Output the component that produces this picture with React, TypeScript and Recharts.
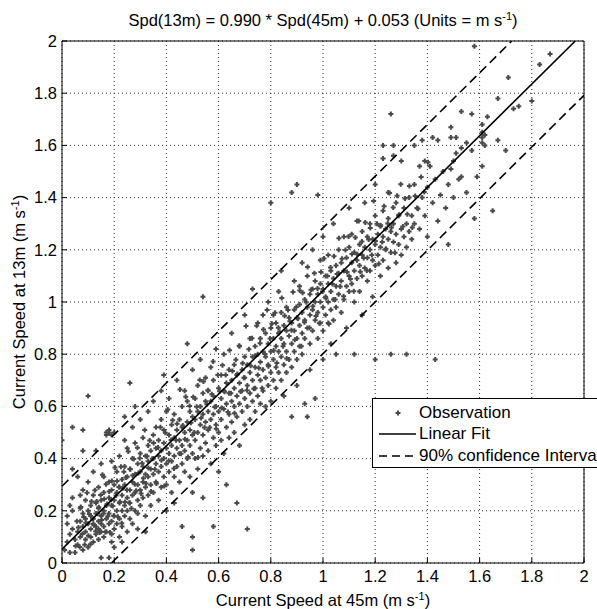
import React from 'react';
import { ScatterChart, Scatter, XAxis, YAxis, CartesianGrid } from 'recharts';

const xTicks = [0, 0.2, 0.4, 0.6, 0.8, 1, 1.2, 1.4, 1.6, 1.8, 2];
const yTicks = [0, 0.2, 0.4, 0.6, 0.8, 1, 1.2, 1.4, 1.6, 1.8, 2];
const xTickLabels = ['0', '0.2', '0.4', '0.6', '0.8', '1', '1.2', '1.4', '1.6', '1.8', '2'];
const yTickLabels = ['0', '0.2', '0.4', '0.6', '0.8', '1', '1.2', '1.4', '1.6', '1.8', '2'];

const fitSlope = 0.99;
const fitIntercept = 0.053;
const ciHalfWidth = 0.241;

const titleText = 'Spd(13m) = 0.990 * Spd(45m) + 0.053  (Units = m s';
const xTitle = 'Current Speed at 45m (m s';
const yTitle = 'Current Speed at 13m (m s';
const legendLabels = ['Observation', 'Linear Fit', '90% confidence Interval'];

const observations: [number, number][] = [
  [0.01,0.05],[0.02,0.08],[0.02,0.15],[0.03,0.04],[0.03,0.11],[0.04,0.13],[0.04,0.2],[0.05,0.04],[0.05,0.09],[0.0,0.47],[0.04,0.25],[0.04,0.36],[0.04,0.52],[0.02,0.18],[0.03,0.22],
  [0.06,0.07],[0.06,0.12],[0.07,0.1],[0.07,0.16],[0.07,0.21],[0.08,0.05],[0.08,0.14],[0.08,0.19],[0.08,0.28],[0.09,0.09],[0.09,0.12],[0.09,0.17],[0.09,0.24],[0.1,0.06],[0.1,0.15],[0.1,0.2],[0.1,0.31],[0.08,0.43],[0.08,0.51],[0.1,0.64],[0.06,0.33],[0.07,0.26],
  [0.11,0.1],[0.11,0.13],[0.11,0.18],[0.11,0.22],[0.12,0.08],[0.12,0.15],[0.12,0.17],[0.12,0.26],[0.12,0.35],[0.13,0.11],[0.13,0.14],[0.13,0.19],[0.13,0.23],[0.13,0.43],[0.14,0.09],[0.14,0.16],[0.14,0.21],[0.14,0.29],[0.14,0.13],[0.15,0.02],[0.15,0.12],[0.15,0.18],[0.15,0.24],[0.15,0.38],[0.15,0.15],
  [0.16,0.1],[0.16,0.14],[0.16,0.2],[0.16,0.27],[0.16,0.33],[0.17,0.12],[0.17,0.17],[0.17,0.22],[0.17,0.49],[0.17,0.5],[0.18,0.02],[0.18,0.15],[0.18,0.19],[0.18,0.25],[0.18,0.31],[0.18,0.5],[0.18,0.51],[0.19,0.11],[0.19,0.16],[0.19,0.22],[0.19,0.28],[0.19,0.39],[0.19,0.49],[0.2,0.13],[0.2,0.18],[0.2,0.24],[0.2,0.3],[0.2,0.5],[0.2,0.06],[0.19,0.08],
  [0.21,0.15],[0.21,0.2],[0.21,0.27],[0.21,0.35],[0.22,0.1],[0.22,0.17],[0.22,0.23],[0.22,0.29],[0.22,0.41],[0.23,0.14],[0.23,0.2],[0.23,0.26],[0.23,0.32],[0.24,0.18],[0.24,0.22],[0.24,0.3],[0.24,0.37],[0.24,0.47],[0.25,0.12],[0.25,0.2],[0.25,0.25],[0.25,0.33],[0.25,0.44],[0.23,0.08],[0.24,0.56],
  [0.26,0.17],[0.26,0.23],[0.26,0.28],[0.26,0.36],[0.26,0.69],[0.27,0.15],[0.27,0.26],[0.27,0.31],[0.27,0.4],[0.27,0.52],[0.28,0.2],[0.28,0.27],[0.28,0.34],[0.28,0.46],[0.29,0.13],[0.29,0.24],[0.29,0.3],[0.29,0.38],[0.3,0.22],[0.3,0.28],[0.3,0.35],[0.3,0.42],[0.3,0.55],[0.28,0.6],[0.29,0.19],
  [0.31,0.25],[0.31,0.31],[0.31,0.37],[0.31,0.48],[0.32,0.18],[0.32,0.29],[0.32,0.34],[0.32,0.41],[0.33,0.26],[0.33,0.33],[0.33,0.39],[0.33,0.45],[0.33,0.58],[0.34,0.22],[0.34,0.3],[0.34,0.36],[0.34,0.43],[0.35,0.27],[0.35,0.34],[0.35,0.4],[0.35,0.49],[0.35,0.62],[0.32,0.12],
  [0.36,0.31],[0.36,0.38],[0.36,0.44],[0.36,0.52],[0.37,0.24],[0.37,0.35],[0.37,0.41],[0.37,0.47],[0.38,0.29],[0.38,0.37],[0.38,0.43],[0.38,0.55],[0.38,0.66],[0.39,0.33],[0.39,0.4],[0.39,0.46],[0.39,0.51],[0.4,0.3],[0.4,0.38],[0.4,0.44],[0.4,0.58],[0.4,0.2],[0.39,0.72],
  [0.41,0.35],[0.41,0.42],[0.41,0.49],[0.41,0.63],[0.42,0.27],[0.42,0.39],[0.42,0.45],[0.42,0.53],[0.43,0.33],[0.43,0.41],[0.43,0.48],[0.43,0.57],[0.44,0.37],[0.44,0.44],[0.44,0.51],[0.44,0.7],[0.45,0.31],[0.45,0.42],[0.45,0.47],[0.45,0.55],[0.46,0.14],[0.43,0.23],
  [0.46,0.38],[0.46,0.45],[0.46,0.52],[0.46,0.6],[0.47,0.35],[0.47,0.43],[0.47,0.5],[0.47,0.66],[0.48,0.4],[0.48,0.47],[0.48,0.54],[0.48,0.62],[0.49,0.33],[0.49,0.45],[0.49,0.51],[0.49,0.58],[0.5,0.05],[0.5,0.1],[0.5,0.27],[0.5,0.42],[0.5,0.49],[0.5,0.56],[0.5,0.74],[0.48,0.84],
  [0.51,0.4],[0.51,0.47],[0.51,0.55],[0.51,0.63],[0.52,0.36],[0.52,0.5],[0.52,0.58],[0.52,0.68],[0.53,0.44],[0.53,0.53],[0.53,0.6],[0.53,0.78],[0.54,0.25],[0.54,0.41],[0.54,0.49],[0.54,0.57],[0.54,0.65],[0.55,0.46],[0.55,0.54],[0.55,0.62],[0.55,0.71],[0.54,1.02],
  [0.56,0.43],[0.56,0.51],[0.56,0.58],[0.56,0.66],[0.57,0.38],[0.57,0.55],[0.57,0.62],[0.57,0.75],[0.58,0.14],[0.58,0.48],[0.58,0.57],[0.58,0.64],[0.58,0.7],[0.59,0.45],[0.59,0.53],[0.59,0.6],[0.59,0.82],[0.6,0.5],[0.6,0.58],[0.6,0.67],[0.6,0.35],
  [0.61,0.47],[0.61,0.55],[0.61,0.63],[0.61,0.72],[0.62,0.42],[0.62,0.59],[0.62,0.66],[0.62,0.8],[0.63,0.52],[0.63,0.61],[0.63,0.69],[0.64,0.48],[0.64,0.57],[0.64,0.65],[0.64,0.74],[0.65,0.54],[0.65,0.62],[0.65,0.7],[0.65,0.88],[0.63,0.3],
  [0.66,0.5],[0.66,0.6],[0.66,0.67],[0.66,0.76],[0.67,0.23],[0.67,0.56],[0.67,0.64],[0.67,0.72],[0.68,0.45],[0.68,0.61],[0.68,0.69],[0.68,0.83],[0.69,0.58],[0.69,0.66],[0.69,0.74],[0.7,0.53],[0.7,0.63],[0.7,0.71],[0.7,0.79],[0.7,0.95],
  [0.71,0.13],[0.71,0.6],[0.71,0.68],[0.71,0.76],[0.72,0.55],[0.72,0.65],[0.72,0.73],[0.72,0.86],[0.73,0.62],[0.73,0.7],[0.73,0.79],[0.74,0.58],[0.74,0.67],[0.74,0.75],[0.74,0.83],[0.75,0.64],[0.75,0.72],[0.75,0.8],[0.75,0.92],[0.73,1.05],
  [0.76,0.61],[0.76,0.7],[0.76,0.77],[0.76,0.86],[0.77,0.66],[0.77,0.74],[0.77,0.81],[0.77,0.95],[0.78,0.6],[0.78,0.71],[0.78,0.79],[0.78,0.88],[0.79,0.68],[0.79,0.76],[0.79,0.84],[0.8,0.73],[0.8,0.81],[0.8,0.9],[0.8,1.38],[0.8,0.62],[0.79,1.0],
  [0.81,0.7],[0.81,0.78],[0.81,0.86],[0.81,0.95],[0.82,0.67],[0.82,0.75],[0.82,0.83],[0.82,0.92],[0.83,0.73],[0.83,0.81],[0.83,0.88],[0.83,1.04],[0.84,0.7],[0.84,0.79],[0.84,0.86],[0.84,0.96],[0.85,0.76],[0.85,0.84],[0.85,0.91],[0.85,0.64],[0.84,1.12],
  [0.86,0.73],[0.86,0.81],[0.86,0.89],[0.86,0.98],[0.87,0.78],[0.87,0.87],[0.87,0.94],[0.88,0.56],[0.88,0.75],[0.88,0.84],[0.88,0.92],[0.88,1.42],[0.89,0.81],[0.89,0.89],[0.89,0.97],[0.89,1.08],[0.9,0.78],[0.9,0.86],[0.9,0.94],[0.9,1.45],[0.9,0.68],
  [0.91,0.83],[0.91,0.91],[0.91,0.99],[0.91,1.06],[0.92,0.8],[0.92,0.88],[0.92,0.96],[0.92,1.15],[0.93,0.61],[0.93,0.86],[0.93,0.93],[0.93,1.01],[0.94,0.56],[0.94,0.9],[0.94,0.98],[0.94,1.1],[0.95,0.84],[0.95,0.95],[0.95,1.03],[0.95,0.74],
  [0.96,0.89],[0.96,0.97],[0.96,1.05],[0.96,1.2],[0.97,0.63],[0.97,0.93],[0.97,1.0],[0.97,1.08],[0.98,0.86],[0.98,0.96],[0.98,1.03],[0.98,1.41],[0.99,0.92],[0.99,1.0],[0.99,1.07],[0.99,1.16],[1.0,0.89],[1.0,0.98],[1.0,1.05],[1.0,1.25],[1.0,0.78],
  [1.01,0.95],[1.01,1.02],[1.01,1.1],[1.02,0.92],[1.02,1.0],[1.02,1.07],[1.02,1.18],[1.03,0.97],[1.03,1.04],[1.03,1.12],[1.03,0.84],[1.04,1.01],[1.04,1.09],[1.04,1.3],[1.05,0.8],[1.05,0.98],[1.05,1.06],[1.05,1.14],[1.04,0.93],
  [1.06,1.03],[1.06,1.11],[1.06,1.2],[1.07,0.96],[1.07,1.08],[1.07,1.15],[1.08,1.01],[1.08,1.12],[1.08,1.25],[1.09,1.06],[1.09,1.17],[1.09,0.9],[1.1,1.04],[1.1,1.1],[1.1,1.21],[1.1,1.36],
  [1.11,1.07],[1.11,1.15],[1.11,1.26],[1.12,0.8],[1.12,1.0],[1.12,1.12],[1.12,1.19],[1.13,1.09],[1.13,1.16],[1.13,1.31],[1.14,1.04],[1.14,1.14],[1.14,1.22],[1.15,1.1],[1.15,1.18],[1.15,1.27],[1.15,0.95],
  [1.16,1.13],[1.16,1.21],[1.16,1.38],[1.17,1.08],[1.17,1.17],[1.17,1.25],[1.18,1.12],[1.18,1.2],[1.18,1.3],[1.19,1.16],[1.19,1.24],[1.19,1.02],[1.2,0.78],[1.2,1.14],[1.2,1.22],[1.2,1.33],[1.2,1.45],
  [1.21,1.18],[1.21,1.26],[1.22,1.1],[1.22,1.21],[1.22,1.29],[1.23,1.55],[1.23,1.6],[1.23,1.16],[1.23,1.25],[1.23,1.35],[1.24,1.2],[1.24,1.28],[1.25,1.13],[1.25,1.24],[1.25,1.32],[1.25,1.42],
  [1.26,0.8],[1.26,1.72],[1.26,1.19],[1.26,1.27],[1.27,1.56],[1.27,1.6],[1.27,1.23],[1.27,1.3],[1.28,1.15],[1.28,1.26],[1.28,1.38],[1.29,1.22],[1.29,1.33],[1.3,1.54],[1.3,1.18],[1.3,1.28],[1.32,0.8],
  [1.31,1.25],[1.31,1.36],[1.32,1.3],[1.32,1.21],[1.33,1.27],[1.33,1.4],[1.34,1.33],[1.34,1.24],[1.35,1.6],[1.35,1.3],[1.35,1.45],[1.36,1.36],[1.37,1.52],[1.37,1.28],[1.38,1.62],[1.38,1.4],[1.39,1.54],[1.39,1.33],[1.4,1.44],[1.4,1.25],
  [1.41,1.52],[1.42,1.63],[1.42,1.38],[1.43,0.78],[1.43,1.47],[1.44,1.62],[1.44,1.31],[1.45,1.41],[1.46,1.5],[1.47,1.36],[1.48,1.22],[1.48,1.45],[1.49,1.67],[1.49,1.63],[1.49,1.51],[1.5,1.54],[1.5,1.4],
  [1.51,1.63],[1.51,1.57],[1.52,1.47],[1.53,1.73],[1.53,1.59],[1.53,1.48],[1.55,1.61],[1.55,1.42],[1.57,1.72],[1.57,1.58],[1.58,1.98],[1.58,1.32],[1.59,1.48],
  [1.61,1.61],[1.61,1.63],[1.61,1.65],[1.61,1.68],[1.62,1.6],[1.62,1.64],[1.61,1.52],[1.63,1.71],[1.65,1.35],[1.67,1.62],[1.67,1.78],[1.7,1.58],[1.71,1.86],[1.73,1.74],[1.75,1.75],[1.8,1.77],[1.83,1.91],[1.87,1.95],
];

const observationsLow: [number, number][] = [
  [0.052,0.065],[0.057,0.16],[0.063,0.136],[0.068,0.061],[0.072,0.215],[0.078,0.111],[0.083,0.176],[0.087,0.07],[0.091,0.154],[0.096,0.269],
  [0.101,0.104],[0.105,0.188],[0.109,0.072],[0.113,0.236],[0.117,0.17],[0.122,0.145],[0.126,0.279],[0.129,0.122],[0.133,0.236],[0.137,0.189],
  [0.141,0.214],[0.144,0.117],[0.148,0.261],[0.152,0.165],[0.155,0.338],[0.159,0.19],[0.162,0.245],[0.166,0.119],[0.169,0.302],[0.173,0.226],
  [0.176,0.179],[0.181,0.274],[0.184,0.117],[0.188,0.242],[0.191,0.314],[0.195,0.218],[0.198,0.181],[0.203,0.366],[0.207,0.259],[0.211,0.314],
  [0.214,0.177],[0.218,0.291],[0.222,0.235],[0.226,0.369],[0.229,0.152],[0.233,0.286],[0.237,0.35],[0.241,0.234],[0.245,0.328],[0.249,0.28],
  [0.254,0.427],[0.258,0.231],[0.262,0.359],[0.266,0.209],[0.271,0.335],[0.275,0.398],[0.279,0.302],[0.284,0.277],[0.289,0.442],[0.293,0.345],
  [0.298,0.401],[0.303,0.266],[0.307,0.382],[0.312,0.325],[0.317,0.51],[0.322,0.305],[0.326,0.409],[0.331,0.364],[0.336,0.469],[0.341,0.274],
  [0.346,0.399],[0.351,0.46],[0.356,0.359],
];

const observationsMid: [number, number][] = [
  [0.362,0.305],[0.368,0.443],[0.377,0.52],[0.381,0.394],[0.392,0.295],[0.396,0.499],[0.405,0.588],[0.409,0.392],[0.418,0.471],[0.424,0.547],
  [0.429,0.362],[0.437,0.47],[0.441,0.534],[0.452,0.665],[0.456,0.419],[0.463,0.527],[0.471,0.474],[0.474,0.637],[0.483,0.406],[0.489,0.602],
  [0.494,0.537],[0.503,0.636],[0.507,0.5],[0.516,0.599],[0.521,0.404],[0.528,0.701],[0.533,0.556],[0.542,0.695],[0.546,0.519],[0.555,0.608],
  [0.559,0.662],[0.566,0.519],[0.574,0.647],[0.579,0.772],[0.585,0.598],[0.591,0.514],[0.597,0.72],[0.604,0.658],[0.611,0.594],[0.615,0.758],
  [0.623,0.656],[0.627,0.72],[0.636,0.579],[0.642,0.815],[0.647,0.65],[0.653,0.736],[0.661,0.574],[0.666,0.779],[0.672,0.724],[0.679,0.832],
  [0.684,0.657],[0.692,0.765],[0.697,0.71],[0.705,0.908],[0.709,0.662],[0.716,0.819],[0.723,0.756],[0.728,0.861],[0.735,0.668],[0.741,0.794],
  [0.746,0.909],[0.754,0.747],[0.759,0.842],[0.767,0.67],[0.772,0.895],[0.778,0.801],[0.786,0.969],[0.791,0.754],[0.797,0.86],[0.804,0.917],
  [0.811,0.814],[0.816,0.959],[0.823,0.766],[0.829,0.901],[0.834,0.886],[0.842,1.015],[0.847,0.83],[0.853,0.947],[0.861,0.784],[0.866,0.969],
  [0.873,0.926],[0.879,0.892],[0.885,1.038],[0.892,0.855],[0.898,0.981],[0.904,0.937],[0.911,1.044],[0.917,0.83],[0.922,1.035],[0.929,0.922],
  [0.936,0.999],[0.941,1.134],[0.948,0.901],[0.954,1.047],[0.961,0.984],[0.967,1.11],[0.973,0.946],[0.979,1.052],[0.986,0.919],[0.992,1.115],
  [0.998,1.04],[1.004,1.167],[1.011,1.014],[1.017,1.1],[1.023,0.916],[1.029,1.132],[1.036,1.069],[1.042,1.175],[1.047,1.01],[1.054,1.107],
  [1.061,1.244],[1.066,1.059],[1.073,1.166],[1.079,1.022],[1.086,1.199],[1.092,1.115],[1.098,1.251],[1.105,1.088],[1.111,1.184],[1.118,1.041],
  [1.124,1.247],[1.131,1.183],[1.137,1.31],[1.143,1.116],[1.149,1.232],[1.156,1.169],[1.162,1.305],[1.168,1.121],[1.175,1.239],[1.181,1.284],
  [1.187,1.18],[1.194,1.387],[1.201,1.234],[1.207,1.3],[1.214,1.147],[1.221,1.294],[1.227,1.23],[1.234,1.367],[1.241,1.204],[1.248,1.301],
  [1.255,1.418],[1.262,1.285],[1.269,1.362],[1.276,1.189],[1.284,1.407],[1.291,1.334],[1.298,1.451],[1.306,1.289],[1.314,1.397],[1.323,1.336],
  [1.331,1.444],[1.342,1.285],[1.353,1.406],[1.364,1.357],[1.376,1.479],[1.388,1.421],[1.402,1.535],
];

const obsData = [...observations, ...observationsLow, ...observationsMid].map(([x, y]) => ({ x, y }));

function segment(m: number, b: number) {
  const lo = 0;
  const hi = 2;
  const x0 = Math.max(lo, (lo - b) / m);
  const x1 = Math.min(hi, (hi - b) / m);
  return [
    { x: x0, y: m * x0 + b },
    { x: x1, y: m * x1 + b },
  ];
}

const fitData = segment(fitSlope, fitIntercept);
const upperData = segment(fitSlope, fitIntercept + ciHalfWidth);
const lowerData = segment(fitSlope, fitIntercept - ciHalfWidth);

const FONT = '"Liberation Sans", Arial, Helvetica, sans-serif';
const MARKER = '#4a4a4a';

const PlusMarker = (props: any) => {
  const { cx, cy } = props;
  if (cx == null || cy == null) return <g />;
  return (
    <path
      d={`M${cx - 2.5},${cy}H${cx + 2.5}M${cx},${cy - 2.5}V${cy + 2.5}`}
      stroke={MARKER}
      strokeWidth={2}
      fill="none"
    />
  );
};

const NoMarker = () => <g />;

const TitleLabel = () => (
  <text x={323} y={26} textAnchor="middle" fontFamily={FONT} fontSize={16.5} fill="#000">
    {titleText}
    <tspan dy={-6} fontSize={11}>-1</tspan>
    <tspan dy={6}>)</tspan>
  </text>
);

const XTitleLabel = () => (
  <text x={323} y={606} textAnchor="middle" fontFamily={FONT} fontSize={16.5} fill="#000">
    {xTitle}
    <tspan dy={-6} fontSize={11}>-1</tspan>
    <tspan dy={6}>)</tspan>
  </text>
);

const YTitleLabel = () => (
  <text
    x={25}
    y={302}
    textAnchor="middle"
    fontFamily={FONT}
    fontSize={16.5}
    fill="#000"
    transform="rotate(-90, 25, 302)"
  >
    {yTitle}
    <tspan dy={-6} fontSize={11}>-1</tspan>
    <tspan dy={6}>)</tspan>
  </text>
);

const tickStyle = { fontFamily: FONT, fontSize: 16.5, fill: '#000' };

function Legend() {
  const row: React.CSSProperties = { display: 'flex', alignItems: 'center', height: 21.5, whiteSpace: 'nowrap' };
  return (
    <div
      style={{
        position: 'absolute',
        left: 372,
        top: 398,
        width: 260,
        height: 70,
        border: '1px solid #000',
        background: '#fff',
        fontFamily: FONT,
        fontSize: 17,
        color: '#000',
        paddingTop: 3,
        boxSizing: 'border-box',
      }}
    >
      <div style={row}>
        <svg width={46} height={20} style={{ display: 'block' }}>
          <path d="M22.5,10H27.5M25,7.5V12.5" stroke={MARKER} strokeWidth={2} />
        </svg>
        <span>{legendLabels[0]}</span>
      </div>
      <div style={row}>
        <svg width={46} height={20} style={{ display: 'block' }}>
          <line x1={6} y1={10} x2={43} y2={10} stroke="#000" strokeWidth={1.6} />
        </svg>
        <span>{legendLabels[1]}</span>
      </div>
      <div style={row}>
        <svg width={46} height={20} style={{ display: 'block' }}>
          <line x1={6} y1={10} x2={43} y2={10} stroke="#000" strokeWidth={1.6} strokeDasharray="8 5" />
        </svg>
        <span>{legendLabels[2]}</span>
      </div>
    </div>
  );
}

export default function App() {
  return (
    <div
      style={{
        position: 'absolute',
        left: 0,
        top: 0,
        width: 597,
        height: 609,
        overflow: 'hidden',
        background: '#fff',
      }}
    >
      <ScatterChart width={597} height={609} margin={{ top: 40, right: 12, bottom: 0, left: 2 }}>
        <CartesianGrid
          xAxisId="b"
          yAxisId="l"
          stroke="#333"
          strokeDasharray="1 3"
          horizontalValues={yTicks}
          verticalValues={xTicks}
        />
        <XAxis
          xAxisId="b"
          dataKey="x"
          type="number"
          domain={[0, 2]}
          ticks={xTicks}
          tickFormatter={(v: number) => xTickLabels[xTicks.indexOf(v)] ?? String(v)}
          allowDataOverflow
          height={46}
          interval={0}
          tickSize={-5}
          tickMargin={12}
          tick={tickStyle}
          axisLine={{ stroke: '#000' }}
          tickLine={{ stroke: '#000' }}
          label={{ content: XTitleLabel }}
        />
        <XAxis
          xAxisId="t"
          orientation="top"
          type="number"
          domain={[0, 2]}
          ticks={xTicks}
          height={1}
          interval={0}
          tickSize={-5}
          tick={false}
          axisLine={{ stroke: '#000' }}
          tickLine={{ stroke: '#000' }}
          label={{ content: TitleLabel }}
        />
        <YAxis
          yAxisId="l"
          dataKey="y"
          type="number"
          domain={[0, 2]}
          ticks={yTicks}
          tickFormatter={(v: number) => yTickLabels[yTicks.indexOf(v)] ?? String(v)}
          allowDataOverflow
          width={60}
          interval={0}
          tickSize={-5}
          tickMargin={10}
          tick={tickStyle}
          axisLine={{ stroke: '#000' }}
          tickLine={{ stroke: '#000' }}
          label={{ content: YTitleLabel }}
        />
        <YAxis
          yAxisId="r"
          orientation="right"
          type="number"
          domain={[0, 2]}
          ticks={yTicks}
          width={1}
          interval={0}
          tickSize={-5}
          tick={false}
          axisLine={{ stroke: '#000' }}
          tickLine={{ stroke: '#000' }}
        />
        <Scatter
          xAxisId="b"
          yAxisId="l"
          data={obsData}
          shape={PlusMarker}
          isAnimationActive={false}
        />
        <Scatter
          xAxisId="b"
          yAxisId="l"
          data={fitData}
          shape={NoMarker}
          line={{ stroke: '#000', strokeWidth: 1.6 }}
          isAnimationActive={false}
        />
        <Scatter
          xAxisId="b"
          yAxisId="l"
          data={upperData}
          shape={NoMarker}
          line={{ stroke: '#000', strokeWidth: 1.6, strokeDasharray: '9 5' }}
          isAnimationActive={false}
        />
        <Scatter
          xAxisId="b"
          yAxisId="l"
          data={lowerData}
          shape={NoMarker}
          line={{ stroke: '#000', strokeWidth: 1.6, strokeDasharray: '9 5' }}
          isAnimationActive={false}
        />
      </ScatterChart>
      <Legend />
    </div>
  );
}
